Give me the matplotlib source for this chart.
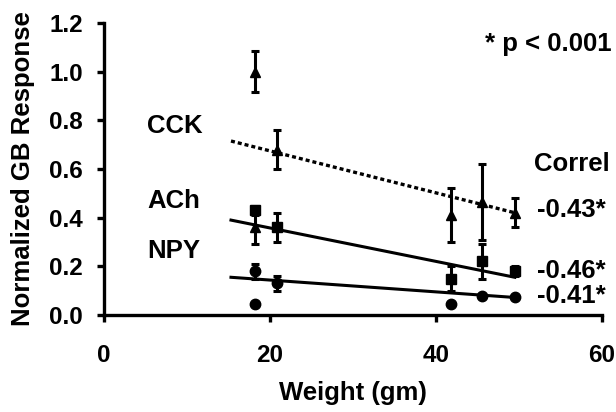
import matplotlib
matplotlib.use("Agg")
import matplotlib.pyplot as plt

plt.rcParams['font.family'] = ['Liberation Sans', 'DejaVu Sans']
plt.rcParams['font.weight'] = 'bold'

# CCK (triangles)
cck_x = [18.2, 18.2, 20.8, 41.8, 45.6, 49.5]
cck_y = [1.00, 0.36, 0.68, 0.41, 0.465, 0.42]
cck_err = [0.085, 0.07, 0.08, 0.11, 0.155, 0.06]
# ACh (squares)
ach_x = [18.2, 20.8, 41.8, 45.6, 49.5]
ach_y = [0.43, 0.36, 0.15, 0.22, 0.18]
ach_err = [0.02, 0.06, 0.05, 0.07, 0.02]
# NPY (circles)
npy_x = [18.2, 18.2, 20.8, 41.8, 45.6, 49.5]
npy_y = [0.18, 0.045, 0.13, 0.045, 0.078, 0.075]
npy_err = [0.03, 0.0, 0.03, 0.0, 0.01, 0.0]

# regression lines (endpoints)
fit_x = [15.3, 49.5]
cck_fit = [0.715, 0.42]
ach_fit = [0.39, 0.155]
npy_fit = [0.155, 0.072]

correl = ["-0.43*", "-0.46*", "-0.41*"]

fig = plt.figure(figsize=(6.16, 4.12), dpi=100)
ax = fig.add_axes([104/616, 1-315/412, 498/616, 292/412])

ax.plot(fit_x, cck_fit, color='black', lw=2.4, linestyle=(0, (1.2, 0.9)))
ax.plot(fit_x, ach_fit, color='black', lw=2.2)
ax.plot(fit_x, npy_fit, color='black', lw=2.2)

ekw = dict(color='black', ecolor='black', elinewidth=2.2, capsize=3, capthick=2.2, linestyle='none')
ax.errorbar(cck_x, cck_y, yerr=cck_err, marker='^', markersize=6.5, **ekw)
ax.errorbar(ach_x, ach_y, yerr=ach_err, marker='s', markersize=6.5, **ekw)
ax.errorbar(npy_x, npy_y, yerr=npy_err, marker='o', markersize=7.5, **ekw)

ax.set_xlim(0, 60)
ax.set_ylim(0, 1.2)
ax.set_xticks([0, 20, 40, 60])
ax.set_yticks([0.0, 0.2, 0.4, 0.6, 0.8, 1.0, 1.2])
ax.set_yticklabels(["0.0", "0.2", "0.4", "0.6", "0.8", "1.0", "1.2"])
for s in ['top', 'right']:
    ax.spines[s].set_visible(False)
for s in ['left', 'bottom']:
    ax.spines[s].set_linewidth(2.4)
ax.tick_params(direction='out', width=2.4, length=5, labelsize=17.5)
ax.tick_params(axis='x', pad=16)
ax.tick_params(axis='y', pad=10)
for lab in ax.get_xticklabels() + ax.get_yticklabels():
    lab.set_fontweight('bold')

ax.set_xlabel("Weight (gm)", fontsize=18.5, fontweight='bold')
ax.set_ylabel("Normalized GB Response", fontsize=18.5, fontweight='bold')
ax.xaxis.set_label_coords(0.5, (315-381)/292)
ax.yaxis.set_label_coords((35-104)/498, 0.5)

tk = dict(fontsize=18.5, fontweight='bold', color='black')
ax.text(5.2, 0.777, "CCK", **tk, va='center', ha='left')
ax.text(5.2, 0.47, "ACh", **tk, va='center', ha='left')
ax.text(5.2, 0.263, "NPY", **tk, va='center', ha='left')
ax.text(51.8, 0.62, "Correl", **tk, va='center', ha='left')
ax.text(52.2, 0.43, correl[0], **tk, va='center', ha='left')
ax.text(52.2, 0.18, correl[1], **tk, va='center', ha='left')
ax.text(52.2, 0.078, correl[2], **tk, va='center', ha='left')
ax.text(61.2, 1.115, "* p < 0.001", **tk, va='center', ha='right')

fig.savefig("out.png", dpi=100)
